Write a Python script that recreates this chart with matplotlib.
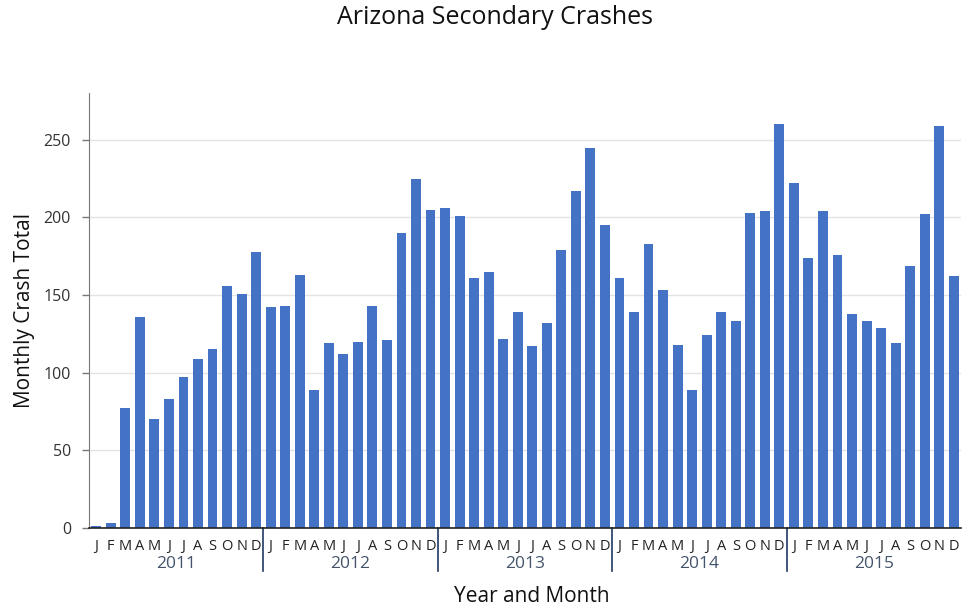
import matplotlib
matplotlib.use('Agg')
import matplotlib.pyplot as plt
import matplotlib.transforms as mtransforms

# Monthly totals, Jan 2011 .. Dec 2015
years = ['2011', '2012', '2013', '2014', '2015']
months = ['J', 'F', 'M', 'A', 'M', 'J', 'J', 'A', 'S', 'O', 'N', 'D']
crashes_2011 = [1, 3, 77, 136, 70, 83, 97, 109, 115, 156, 151, 178]
crashes_2012 = [142, 143, 163, 89, 119, 112, 120, 143, 121, 190, 225, 205]
crashes_2013 = [206, 201, 161, 165, 122, 139, 117, 132, 179, 217, 245, 195]
crashes_2014 = [161, 139, 183, 153, 118, 89, 124, 139, 133, 203, 204, 260]
crashes_2015 = [222, 174, 204, 176, 138, 133, 129, 119, 169, 202, 259, 162]

values = crashes_2011 + crashes_2012 + crashes_2013 + crashes_2014 + crashes_2015
xs = list(range(len(values)))

plt.rcParams['font.family'] = ['Open Sans', 'DejaVu Sans']

fig = plt.figure(figsize=(9.65, 6.09), dpi=100, facecolor='white')
ax = fig.add_axes([0.0922, 0.133, 0.9037, 0.714])

ax.bar(xs, values, width=0.68, color='#4472C4', zorder=2)

ax.set_xlim(-0.5, len(values) - 0.5)
ax.set_ylim(0, 280)
ax.set_yticks([0, 50, 100, 150, 200, 250])
ax.yaxis.grid(True, color='#e3e3e3', linewidth=1, zorder=0)
ax.tick_params(axis='y', length=5, width=1, color='#777777', labelsize=11.5,
               labelcolor='#333333', pad=8)
ax.tick_params(axis='x', length=0)
ax.set_xticks([])

ax.spines['top'].set_visible(False)
ax.spines['right'].set_visible(False)
ax.spines['left'].set_color('#777777')
ax.spines['bottom'].set_color('#222222')
ax.spines['bottom'].set_linewidth(1.2)

# month letters and year labels under the axis
trans = mtransforms.blended_transform_factory(ax.transData, ax.transAxes)
for i, x in enumerate(xs):
    ax.text(x, -0.025, months[i % 12], transform=trans, ha='center', va='top',
            fontsize=10.5, color='#222222')
for k, yr in enumerate(years):
    ax.text(k * 12 + 5.5, -0.064, yr, transform=trans, ha='center', va='top',
            fontsize=12.5, color='#44546A')
    if k > 0:
        ax.plot([k * 12 - 0.5, k * 12 - 0.5], [0, -0.098], transform=trans,
                color='#1F3864', linewidth=1.2, clip_on=False)

ax.set_ylabel('Monthly Crash Total', fontsize=15, color='#111111', labelpad=6)
fig.text(0.5515, 0.004, 'Year and Month', ha='center', va='bottom',
         fontsize=15, color='#111111')
fig.suptitle('Arizona Secondary Crashes', x=0.513, y=0.992, fontsize=18,
             color='#111111')

fig.savefig('out.png', dpi=100, facecolor='white')
